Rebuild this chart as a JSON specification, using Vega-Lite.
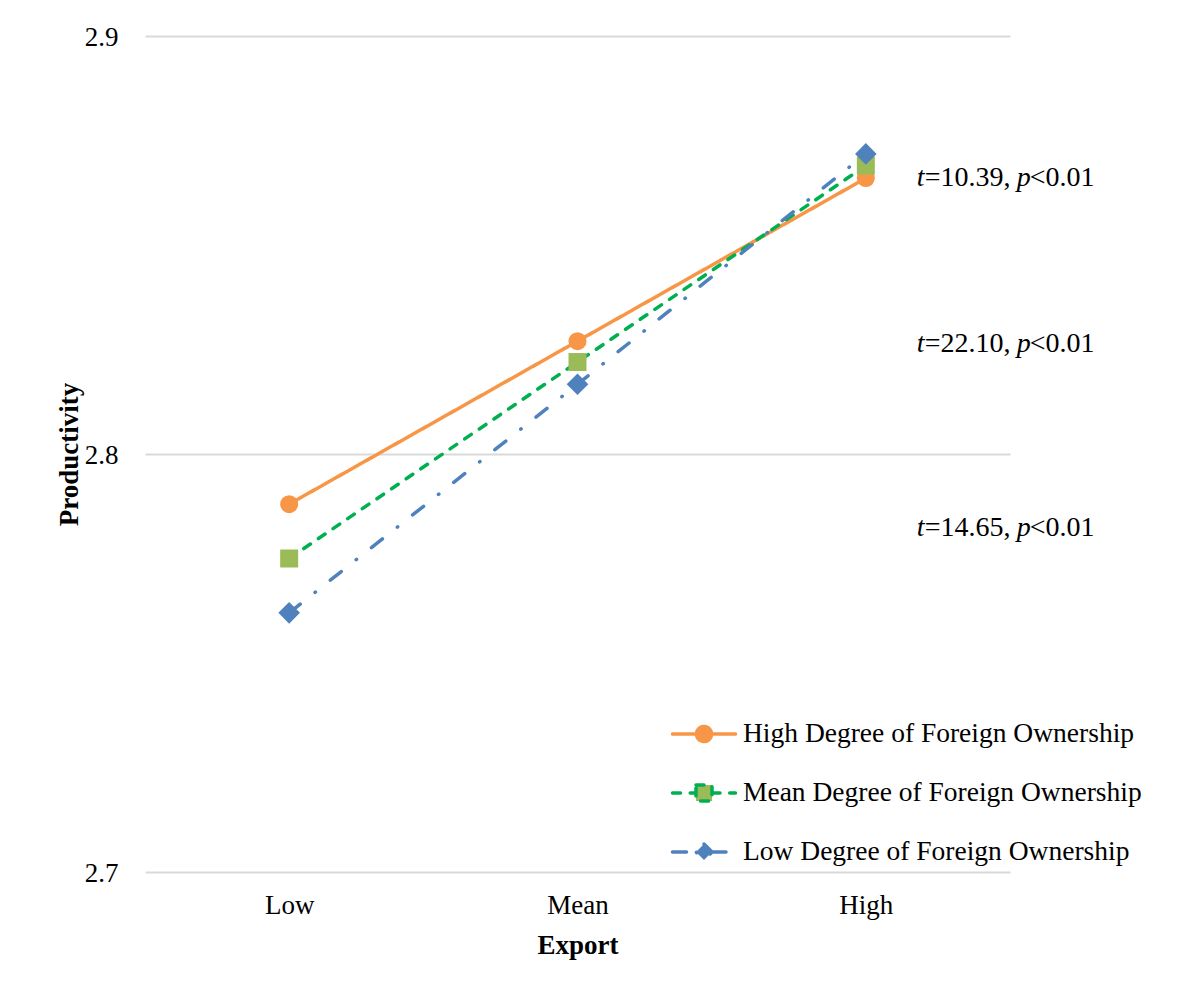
{
  "$schema": "https://vega.github.io/schema/vega-lite/v6.json",
  "width": 865,
  "height": 836,
  "autosize": {"type": "none"},
  "padding": {"left": 145, "top": 36, "right": 188, "bottom": 111},
  "background": "white",
  "config": {
    "view": {"stroke": null},
    "font": "Liberation Serif",
    "axis": {"labelFont": "Liberation Serif", "titleFont": "Liberation Serif", "labelColor": "#000000", "titleColor": "#000000"},
    "legend": {"labelFont": "Liberation Serif"}
  },
  "datasets": {
    "series": [
      {"export": "Low", "productivity": 2.788, "series": "High Degree of Foreign Ownership"},
      {"export": "Mean", "productivity": 2.827, "series": "High Degree of Foreign Ownership"},
      {"export": "High", "productivity": 2.866, "series": "High Degree of Foreign Ownership"},
      {"export": "Low", "productivity": 2.775, "series": "Mean Degree of Foreign Ownership"},
      {"export": "Mean", "productivity": 2.822, "series": "Mean Degree of Foreign Ownership"},
      {"export": "High", "productivity": 2.869, "series": "Mean Degree of Foreign Ownership"},
      {"export": "Low", "productivity": 2.762, "series": "Low Degree of Foreign Ownership"},
      {"export": "Mean", "productivity": 2.8167, "series": "Low Degree of Foreign Ownership"},
      {"export": "High", "productivity": 2.8718, "series": "Low Degree of Foreign Ownership"}
    ],
    "ann": [
      {"y": 2.8641, "tval": "=10.39,"},
      {"y": 2.8244, "tval": "=22.10,"},
      {"y": 2.7804, "tval": "=14.65,"}
    ]
  },
  "layer": [
    {
      "data": {"name": "series"},
      "mark": {"type": "line", "strokeWidth": 3.5, "strokeCap": "round"},
      "encoding": {
        "x": {"field": "export", "type": "ordinal", "sort": ["Low", "Mean", "High"],
              "scale": {"type": "point", "padding": 0.5},
              "axis": {"title": "Export", "labelAngle": 0, "labelFontSize": 27, "labelPadding": 20, "ticks": false, "domain": false, "grid": false,
                       "titleFontSize": 27, "titleFontWeight": "bold", "titleBaseline": "alphabetic", "titleX": 432.5, "titleY": 81}},
        "y": {"field": "productivity", "type": "quantitative", "title": "Productivity",
              "scale": {"domain": [2.7, 2.9], "zero": false, "nice": false},
              "axis": {"values": [2.7, 2.8, 2.9], "format": ".1f", "labelFontSize": 27, "labelPadding": 27, "labelOffset": 1.5, "ticks": false, "domain": false,
                       "grid": true, "gridColor": "#d9d9d9", "gridWidth": 2,
                       "titleFontSize": 27, "titleFontWeight": "bold", "titleAngle": 270, "titleBaseline": "alphabetic", "titleAlign": "center", "titleX": -68, "titleY": 418}},
        "color": {"field": "series", "type": "nominal",
                  "scale": {"domain": ["High Degree of Foreign Ownership", "Mean Degree of Foreign Ownership", "Low Degree of Foreign Ownership"],
                            "range": ["#F79646", "#00B050", "#4F81BD"]},
                  "legend": {"title": null, "orient": "none", "legendX": 532, "legendY": 671, "padding": 0, "symbolSize": 2500, "symbolOffset": 0,
                             "labelFontSize": 27.5, "labelLimit": 600, "labelOffset": 12, "rowPadding": 17, "labelColor": "#000000",
                             "encode": {"symbols": {"update": {
                               "shape": {"signal": "datum.value === 'High Degree of Foreign Ownership' ? 'M-1.26,0H-0.3M0.3,0H1.26M0.3,0A0.3,0.3,0,1,1,-0.3,0A0.3,0.3,0,1,1,0.3,0Z' : datum.value === 'Mean Degree of Foreign Ownership' ? 'M-1.26,0H-0.32M0.32,0H1.26M-0.32,-0.32H0.32V0.32H-0.32Z' : 'M-1.26,0H-0.32M0.32,0H1.26M0,-0.32L0.32,0L0,0.32L-0.32,0Z'"},
                               "fill": {"signal": "datum.value === 'High Degree of Foreign Ownership' ? '#F79646' : datum.value === 'Mean Degree of Foreign Ownership' ? '#9BBB59' : '#4F81BD'"},
                               "fillOpacity": {"value": 1},
                               "strokeWidth": {"value": 3.5},
                               "strokeCap": {"value": "round"}
                             }}}}},
        "strokeDash": {"field": "series", "type": "nominal",
                       "scale": {"domain": ["High Degree of Foreign Ownership", "Mean Degree of Foreign Ownership", "Low Degree of Foreign Ownership"],
                                 "range": [[1, 0], [8, 9.7], [14, 19, 0.5, 19]]},
                       "legend": {"title": null, "orient": "none", "legendX": 532, "legendY": 671}}
      }
    },
    {
      "data": {"name": "series"},
      "transform": [{"filter": "datum.series === 'High Degree of Foreign Ownership'"}],
      "mark": {"type": "point", "shape": "circle", "filled": true, "opacity": 1, "strokeWidth": 0, "size": 324, "fill": "#F79646"},
      "encoding": {
        "x": {"field": "export", "type": "ordinal", "sort": ["Low", "Mean", "High"]},
        "y": {"field": "productivity", "type": "quantitative", "title": "Productivity"}
      }
    },
    {
      "data": {"name": "series"},
      "transform": [{"filter": "datum.series === 'Mean Degree of Foreign Ownership'"}],
      "mark": {"type": "point", "shape": "square", "filled": true, "opacity": 1, "strokeWidth": 0, "size": 324, "fill": "#9BBB59"},
      "encoding": {
        "x": {"field": "export", "type": "ordinal", "sort": ["Low", "Mean", "High"]},
        "y": {"field": "productivity", "type": "quantitative", "title": "Productivity"}
      }
    },
    {
      "data": {"name": "series"},
      "transform": [{"filter": "datum.series === 'Low Degree of Foreign Ownership'"}],
      "mark": {"type": "point", "shape": "M0,-1.2L1.2,0L0,1.2L-1.2,0Z", "filled": true, "opacity": 1, "strokeWidth": 0, "size": 324, "fill": "#4F81BD"},
      "encoding": {
        "x": {"field": "export", "type": "ordinal", "sort": ["Low", "Mean", "High"]},
        "y": {"field": "productivity", "type": "quantitative", "title": "Productivity"}
      }
    },
    {
      "data": {"name": "ann"},
      "mark": {"type": "text", "font": "Liberation Serif", "fontSize": 28, "fontStyle": "italic", "align": "left", "baseline": "alphabetic", "dx": 51, "color": "#000000"},
      "encoding": {"x": {"datum": "High"}, "y": {"field": "y", "type": "quantitative", "title": "Productivity"}, "text": {"value": "t"}}
    },
    {
      "data": {"name": "ann"},
      "mark": {"type": "text", "font": "Liberation Serif", "fontSize": 28, "align": "left", "baseline": "alphabetic", "dx": 59, "color": "#000000"},
      "encoding": {"x": {"datum": "High"}, "y": {"field": "y", "type": "quantitative", "title": "Productivity"}, "text": {"field": "tval"}}
    },
    {
      "data": {"name": "ann"},
      "mark": {"type": "text", "font": "Liberation Serif", "fontSize": 28, "fontStyle": "italic", "align": "left", "baseline": "alphabetic", "dx": 151, "color": "#000000"},
      "encoding": {"x": {"datum": "High"}, "y": {"field": "y", "type": "quantitative", "title": "Productivity"}, "text": {"value": "p"}}
    },
    {
      "data": {"name": "ann"},
      "mark": {"type": "text", "font": "Liberation Serif", "fontSize": 28, "align": "left", "baseline": "alphabetic", "dx": 164, "color": "#000000"},
      "encoding": {"x": {"datum": "High"}, "y": {"field": "y", "type": "quantitative", "title": "Productivity"}, "text": {"value": "<0.01"}}
    }
  ]
}
